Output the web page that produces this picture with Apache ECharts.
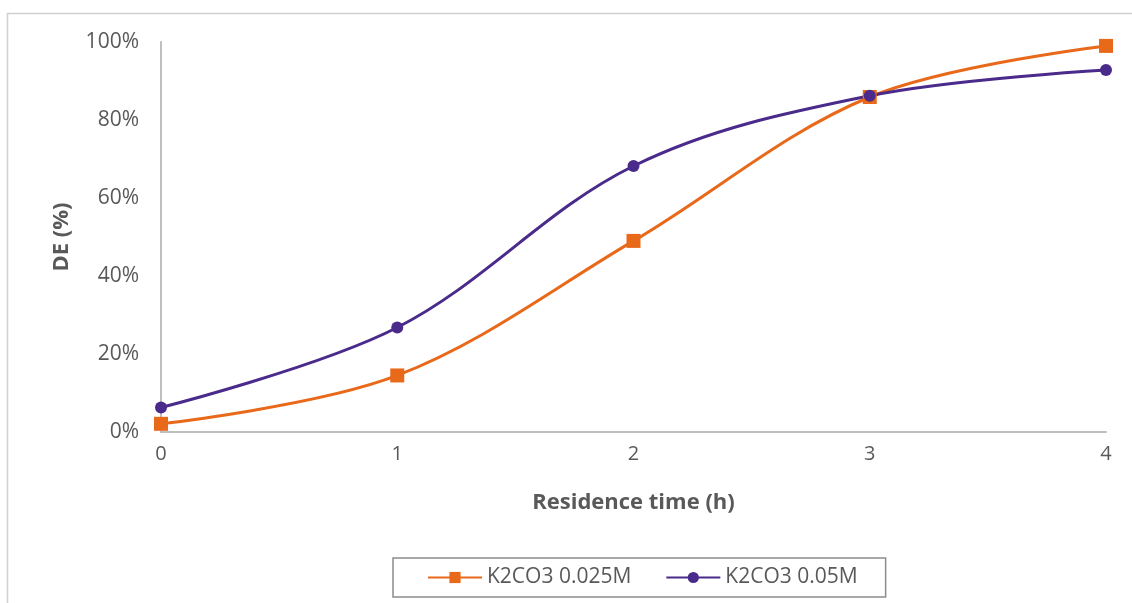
<!DOCTYPE html>
<html><head><meta charset="utf-8">
<script src="https://cdn.jsdelivr.net/npm/echarts@6/dist/echarts.min.js"></script>
<style>html,body{margin:0;padding:0;background:#fff}#c{width:1132px;height:603px}</style>
</head><body><div id="c"></div>
<script>
const xValues = [0, 1, 2, 3, 4];
const yTicks = [0, 20, 40, 60, 80, 100];
const seriesNames = ['K2CO3 0.025M', 'K2CO3 0.05M'];
const de025 = [2.1, 14.5, 49.0, 85.9, 99.0];
const de05 = [6.3, 26.8, 68.2, 86.2, 92.8];

const chart = echarts.init(document.getElementById('c'), null, {renderer: 'canvas'});
const font = '"Open Sans", sans-serif';
chart.setOption({
  animation: false,
  backgroundColor: '#fff',
  graphic: [{type: 'rect', shape: {x: 7.5, y: 13.5, width: 1140, height: 600}, style: {fill: 'none', stroke: '#d0d0d0', lineWidth: 1.5}, silent: true}],
  grid: {left: 161, right: 26, top: 42, bottom: 171},
  legend: {
    data: seriesNames,
    left: 393, top: 558,
    padding: [9, 28, 9, 34],
    borderColor: '#8c8c8c', borderWidth: 1.5,
    itemGap: 34, itemWidth: 54, itemHeight: 14,
    textStyle: {color: '#595959', fontSize: 21, fontFamily: font}
  },
  xAxis: {
    type: 'value', min: 0, max: 4, interval: 1,
    name: 'Residence time (h)', nameLocation: 'middle', nameGap: 60,
    nameTextStyle: {color: '#595959', fontSize: 22, fontWeight: 'bold', fontFamily: font},
    axisLine: {lineStyle: {color: '#bfbfbf', width: 2}},
    axisTick: {show: false},
    splitLine: {show: false},
    axisLabel: {color: '#595959', fontSize: 20, fontFamily: font, margin: 12}
  },
  yAxis: {
    type: 'value', min: 0, max: 100, interval: 20,
    name: 'DE (%)', nameLocation: 'middle', nameGap: 88, nameRotate: 90,
    nameTextStyle: {color: '#595959', fontSize: 22, fontWeight: 'bold', fontFamily: font},
    axisLine: {show: true, lineStyle: {color: '#bfbfbf', width: 2}},
    axisTick: {show: false},
    splitLine: {show: false},
    axisLabel: {color: '#595959', fontSize: 21, fontFamily: font, margin: 22, formatter: v => yTicks.includes(v) ? v + '%' : ''}
  },
  series: [
    {name: seriesNames[0], type: 'line', smooth: 0.35, data: xValues.map((x, i) => [x, de025[i]]),
     symbol: 'rect', symbolSize: 14, itemStyle: {color: '#e8691a'}, lineStyle: {color: '#e8691a', width: 3}},
    {name: seriesNames[1], type: 'line', smooth: 0.35, data: xValues.map((x, i) => [x, de05[i]]),
     symbol: 'circle', symbolSize: 12, itemStyle: {color: '#4a2a8a'}, lineStyle: {color: '#4a2a8a', width: 3}}
  ]
});
</script></body></html>
